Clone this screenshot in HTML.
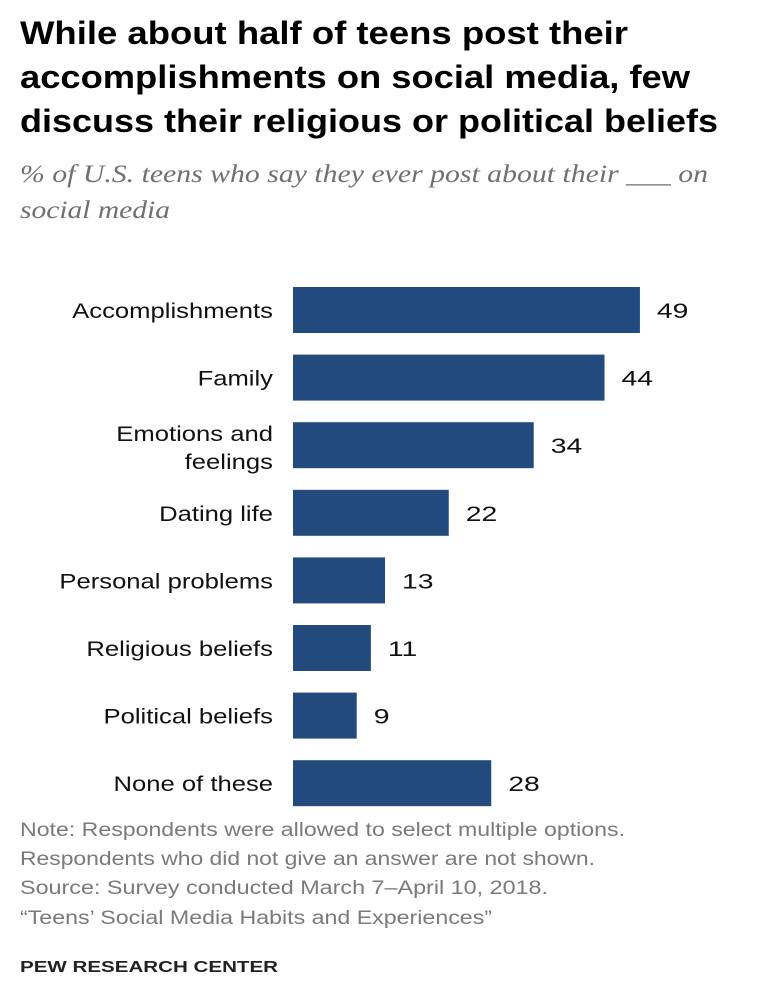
<!DOCTYPE html>
<html><head><meta charset="utf-8"><style>
body{margin:0;background:#fff;}
svg{display:block;}
</style></head><body>
<svg id="chart" width="760" height="990" viewBox="0 0 760 990">
<g font-family="Liberation Sans, sans-serif" font-weight="bold" font-size="32" fill="#000">
<text x="20" y="44" textLength="608" lengthAdjust="spacingAndGlyphs">While about half of teens post their</text>
<text x="20" y="88" textLength="670" lengthAdjust="spacingAndGlyphs">accomplishments on social media, few</text>
<text x="20" y="132" textLength="698" lengthAdjust="spacingAndGlyphs">discuss their religious or political beliefs</text>
</g>
<g font-family="Liberation Serif, serif" font-style="italic" font-size="25" fill="#707070">
<text x="20" y="182" textLength="688" lengthAdjust="spacingAndGlyphs">% of U.S. teens who say they ever post about their ___ on</text>
<text x="20" y="218" textLength="150" lengthAdjust="spacingAndGlyphs">social media</text>
</g>
<g id="bars"></g>
<g font-family="Liberation Sans, sans-serif" font-size="19" fill="#7a7a7a">
<text x="20" y="836" textLength="605" lengthAdjust="spacingAndGlyphs">Note: Respondents were allowed to select multiple options.</text>
<text x="20" y="865" textLength="575" lengthAdjust="spacingAndGlyphs">Respondents who did not give an answer are not shown.</text>
<text x="20" y="894" textLength="528" lengthAdjust="spacingAndGlyphs">Source: Survey conducted March 7–April 10, 2018.</text>
<text x="20" y="924" textLength="472" lengthAdjust="spacingAndGlyphs">“Teens’ Social Media Habits and Experiences”</text>
</g>
<text x="20" y="972" font-family="Liberation Sans, sans-serif" font-weight="bold" font-size="16" fill="#222" textLength="258" lengthAdjust="spacingAndGlyphs">PEW RESEARCH CENTER</text>
</svg>
<script>
const categories = [["Accomplishments"],["Family"],["Emotions and","feelings"],["Dating life"],["Personal problems"],["Religious beliefs"],["Political beliefs"],["None of these"]];
const values = [49,44,34,22,13,11,9,28];
const ns="http://www.w3.org/2000/svg";
const g=document.getElementById('bars');
const x0=293, pxPerUnit=7.08, top0=287, pitch=67.6, barH=46;
function xScale(v){return x0+v*pxPerUnit;}
function yScale(i){return top0+i*pitch;}
values.forEach((v,i)=>{
  const y=yScale(i), cy=y+barH/2;
  const r=document.createElementNS(ns,'rect');
  r.setAttribute('x',x0);r.setAttribute('y',y);
  r.setAttribute('width',xScale(v)-x0);r.setAttribute('height',barH);
  r.setAttribute('fill','#234a7c');
  
  
  g.appendChild(r);
  const t=document.createElementNS(ns,'text');
  t.setAttribute('x',xScale(v)+17);t.setAttribute('y',cy+8);
  t.setAttribute('font-family','Liberation Sans, sans-serif');t.setAttribute('font-size','21');t.setAttribute('fill','#111');
  t.textContent=v;
  
  
  g.appendChild(t);
  t.setAttribute('textLength',(t.getComputedTextLength()*1.35).toFixed(1));
  t.setAttribute('lengthAdjust','spacingAndGlyphs');
  const lines=categories[i];
  const bases = lines.length===1 ? [cy+8] : [cy-4, cy+24];
  lines.forEach((s,k)=>{
    const l=document.createElementNS(ns,'text');
    l.setAttribute('text-anchor','end');
    l.setAttribute('x',273);l.setAttribute('y',bases[k]);
    l.setAttribute('font-family','Liberation Sans, sans-serif');l.setAttribute('font-size','21');l.setAttribute('fill','#111');
    
    
    l.textContent=s;
    g.appendChild(l);
    l.setAttribute('textLength',(l.getComputedTextLength()*1.22).toFixed(1));
    l.setAttribute('lengthAdjust','spacingAndGlyphs');
  });
});
</script>
</body></html>
